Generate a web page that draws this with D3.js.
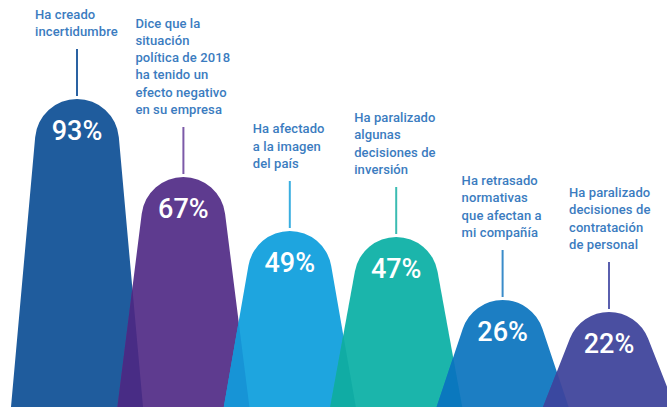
<!DOCTYPE html>
<html>
<head>
<meta charset="utf-8">
<script src="https://cdn.jsdelivr.net/npm/d3@7"></script>
<style>
  html, body { margin: 0; padding: 0; background: #ffffff; }
  svg { display: block; }
</style>
</head>
<body>
<svg id="chart" width="667" height="407"></svg>
<script>
// Share of respondents per effect
const categories = [
  "incertidumbre", "efecto negativo", "imagen del país",
  "decisiones de inversión", "normativas", "contratación"
];
const values = [93, 67, 49, 47, 26, 22];
const valueLabels = ["93%", "67%", "49%", "47%", "26%", "22%"];
const labelLines = [
  ["Ha creado", "incertidumbre"],
  ["Dice que la", "situación", "política de 2018", "ha tenido un", "efecto negativo", "en su empresa"],
  ["Ha afectado", "a la imagen", "del país"],
  ["Ha paralizado", "algunas", "decisiones de", "inversión"],
  ["Ha retrasado", "normativas", "que afectan a", "mi compañía"],
  ["Ha paralizado", "decisiones de", "contratación", "de personal"]
];

// Styling
const fills = ["#1f5c9d", "#5e3b8f", "#1ea5df", "#1bb5ab", "#1c7ec3", "#4a4fa1"];
const overlapFills = ["#482c85", "#1794d6", "#10aca4", "#0a78be", "#3a48a0"];
const lineColors = ["#2a62a2", "#7c5aa8", "#3aaee0", "#3bbcb2", "#3a8cca", "#5a5fae"];
const textColor = "#3b7cc0";
const labelDx = [-42, -48, -37, -42, -41, -40];

const W = 667, H = 407;
const svg = d3.select("#chart");

const x = d3.scalePoint().domain(categories).range([77, 609]);
const y = d3.scaleLinear().domain([0, 100]).range([378, 78]);

const R = 42;          // dome radius
const baseY = 407;     // reference row for the base width
const baseHalf = 66;   // half-width at the base row
const extendY = 420;   // shapes run past the bottom edge

function domePath(cat, v) {
  const cx = x(cat), top = y(v), cy = top + R;
  // tangent from base point to the dome circle (right side)
  const px = baseHalf, py = baseY - cy;
  const d = Math.hypot(px, py);
  const ang = Math.atan2(py, px) - Math.acos(R / d); // screen angle (y down)
  const tx = R * Math.cos(ang), ty = R * Math.sin(ang);
  // extend the straight side below the canvas
  const slope = (px - tx) / (py - ty);
  const exHalf = tx + slope * (extendY - cy - ty);
  const p = d3.path();
  p.moveTo(cx - exHalf, extendY);
  p.lineTo(cx - tx, cy + ty);
  p.arc(cx, cy, R, Math.PI - ang, 2 * Math.PI + ang, false);
  p.lineTo(cx + exHalf, extendY);
  p.closePath();
  return p.toString();
}

const data = categories.map((c, i) => ({ c, v: values[i], i }));

const defs = svg.append("defs");
data.forEach(d => {
  defs.append("clipPath").attr("id", "clip" + d.i)
    .append("path").attr("d", domePath(d.c, d.v));
});

// shapes
svg.append("g").selectAll("path.shape").data(data).join("path")
  .attr("class", "shape")
  .attr("d", d => domePath(d.c, d.v))
  .attr("fill", d => fills[d.i]);

// overlaps between neighbours
svg.append("g").selectAll("path.ov").data(data.slice(1)).join("path")
  .attr("class", "ov")
  .attr("d", d => domePath(d.c, d.v))
  .attr("clip-path", d => `url(#clip${d.i - 1})`)
  .attr("fill", d => overlapFills[d.i - 1]);

// percentage labels
svg.append("g").selectAll("text").data(data).join("text")
  .attr("x", d => x(d.c))
  .attr("y", d => y(d.v) + 41)
  .attr("text-anchor", "middle")
  .attr("fill", "#ffffff")
  .attr("font-family", "Roboto, 'Liberation Sans', Arial, sans-serif")
  .attr("font-weight", 500)
  .attr("font-size", 27)
  .text(d => valueLabels[d.i]);

// leader lines and captions
const lineGap = 3, lineLen = 47, textGap = 13, lh = 17.3;
const cap = svg.append("g");
data.forEach(d => {
  const cx = x(d.c), top = y(d.v);
  const y2 = top - lineGap, y1 = y2 - lineLen;
  cap.append("line")
    .attr("x1", cx).attr("x2", cx)
    .attr("y1", y1).attr("y2", y2)
    .attr("stroke", lineColors[d.i])
    .attr("stroke-width", 2);
  const lines = labelLines[d.i];
  const lastBase = y1 - textGap;
  const t = cap.append("text")
    .attr("fill", textColor)
    .attr("font-family", "Roboto, 'Liberation Sans', Arial, sans-serif")
    .attr("font-weight", 500)
    .attr("font-size", 13)
    .attr("letter-spacing", 0.1);
  lines.forEach((ln, k) => {
    t.append("tspan")
      .attr("x", cx + labelDx[d.i])
      .attr("y", lastBase - (lines.length - 1 - k) * lh)
      .text(ln);
  });
});
</script>
</body>
</html>
